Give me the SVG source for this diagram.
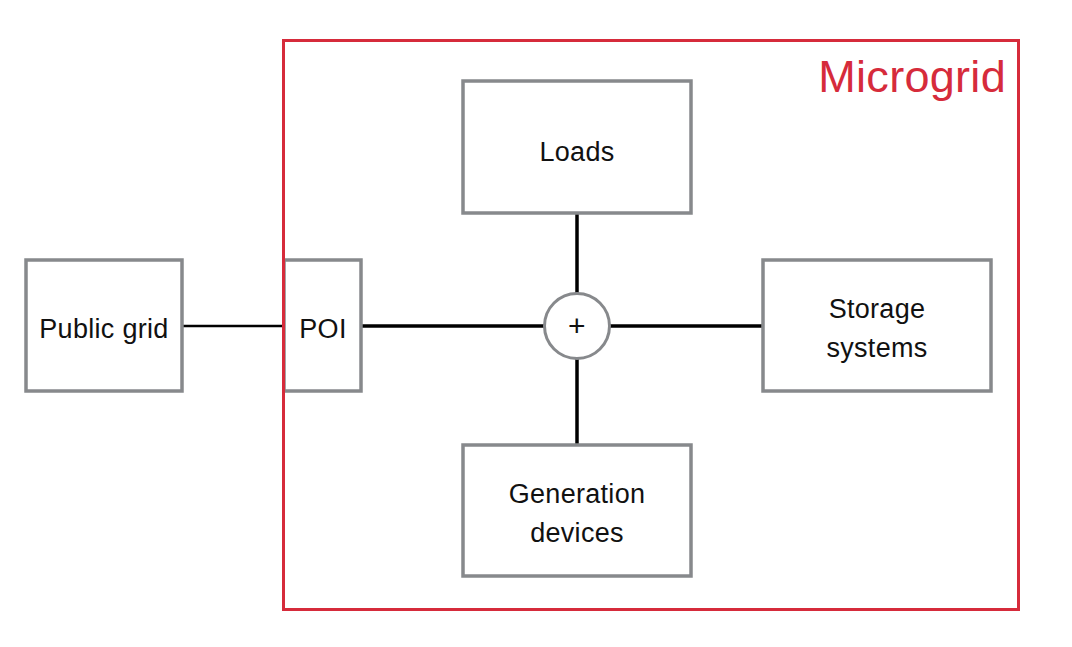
<svg xmlns="http://www.w3.org/2000/svg" width="1072" height="647" viewBox="0 0 1072 647">
<style>
.box{fill:#fff;stroke:#87898c;stroke-width:3.5}
.lbl{font-family:"Liberation Sans",Arial,sans-serif;font-size:27px;fill:#111;text-anchor:middle;letter-spacing:0.3px}
.wire{stroke:#000;stroke-width:3.5;fill:none}
</style>
<rect width="1072" height="647" fill="#fff"/>
<g id="connectors">
<line x1="182" y1="326" x2="283" y2="326" stroke="#000" stroke-width="2.5"/>
<line class="wire" x1="361" y1="326" x2="544" y2="326"/>
<line class="wire" x1="610" y1="326" x2="763" y2="326"/>
<line class="wire" x1="577" y1="213" x2="577" y2="293"/>
<line class="wire" x1="577" y1="359" x2="577" y2="445"/>
</g>
<g id="public-grid">
<rect class="box" x="26" y="260" width="156" height="131"/>
<text class="lbl" x="104" y="338">Public grid</text>
</g>
<g id="poi">
<rect class="box" x="284" y="260" width="77" height="131"/>
<text class="lbl" x="323" y="338">POI</text>
</g>
<g id="loads">
<rect class="box" x="463" y="81" width="228" height="132"/>
<text class="lbl" x="577" y="161">Loads</text>
</g>
<g id="bus">
<circle cx="577" cy="326" r="32.5" fill="#fff" stroke="#87898c" stroke-width="3"/>
<text class="lbl" x="577" y="336" style="font-size:30px">+</text>
</g>
<g id="storage">
<rect class="box" x="763" y="260" width="228" height="131"/>
<text class="lbl" x="877" y="318">Storage</text>
<text class="lbl" x="877" y="357">systems</text>
</g>
<g id="generation">
<rect class="box" x="463" y="445" width="228" height="131"/>
<text class="lbl" x="577" y="503">Generation</text>
<text class="lbl" x="577" y="542">devices</text>
</g>
<g id="microgrid">
<rect x="283.5" y="40.5" width="735" height="569" fill="none" stroke="#d62b3b" stroke-width="3"/>
<text x="1006" y="92" font-family="'Liberation Sans',Arial,sans-serif" font-size="45" fill="#d62b3b" text-anchor="end" letter-spacing="0.3">Microgrid</text>
</g>
</svg>
